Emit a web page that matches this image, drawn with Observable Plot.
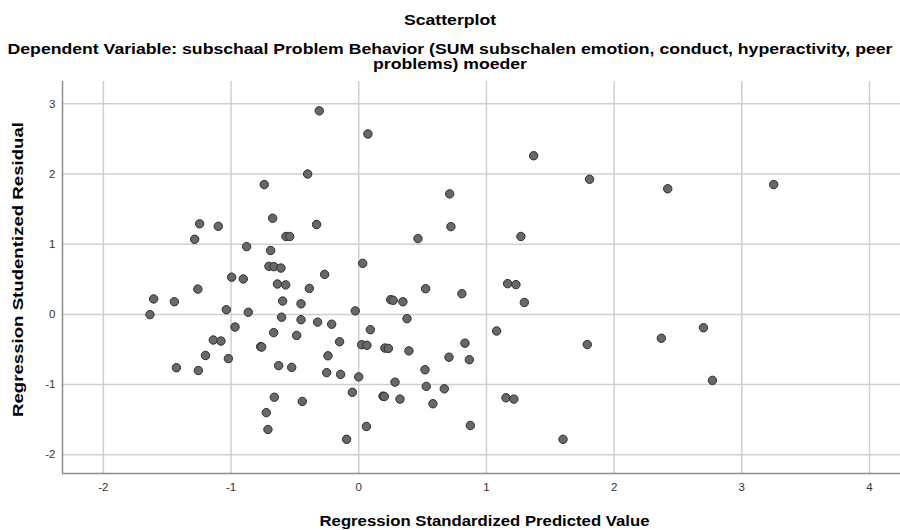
<!DOCTYPE html>
<html>
<head>
<meta charset="utf-8">
<script src="https://cdn.jsdelivr.net/npm/d3@7"></script>
<script src="https://cdn.jsdelivr.net/npm/@observablehq/plot@0.6"></script>
<style>
  html, body { margin: 0; padding: 0; background: #fff; }
  body { width: 900px; height: 530px; overflow: hidden; font-family: "Liberation Sans", Arial, sans-serif; }
  #head { height: 75px; position: relative; color: #000; }
  #title { position: absolute; top: 12px; left: 0; width: 900px; text-align: center; font-weight: bold; font-size: 14px; line-height: 16px; transform: scaleX(1.26); transform-origin: 450px 0; }
  #subtitle { position: absolute; top: 42px; left: 0; width: 900px; text-align: center; font-weight: bold; font-size: 14px; line-height: 14.5px; transform: scaleX(1.26); transform-origin: 450px 0; }
  svg { display: block; }
</style>
</head>
<body>
<div id="head">
  <div id="title">Scatterplot</div>
  <div id="subtitle">Dependent Variable: subschaal Problem Behavior (SUM subschalen emotion, conduct, hyperactivity, peer<br>problems) moeder</div>
</div>
<div id="chart"></div>
<script>
const xLabel = "Regression Standardized Predicted Value";
const yLabel = "Regression Studentized Residual";
const xTicks = [-2, -1, 0, 1, 2, 3, 4];
const yTicks = [-2, -1, 0, 1, 2, 3];
const xDomain = [-2.32, 4.243];
const yDomain = [-2.267, 3.318];

const predicted = [
  -0.309, -0.40, -0.74, -0.674, -1.246, -1.10, -0.33, -1.285, -0.57, -0.54, -0.878, -0.69,
  -0.703, -0.664, -0.609, -0.267, -0.995, -0.904, -0.637, -0.572, -0.387, -1.26, -1.606, -1.444,
  -0.596, -0.452, -1.635, -1.037, -0.865, -0.604, -0.452, -0.322, -0.212, -0.027, -0.969, -0.666,
  -0.486, -1.139, -1.079, -0.15, -0.768, -0.76, -1.20, -1.021, -0.241, -1.428, -1.256, -0.627,
  -0.525, -0.251, -0.142, 0.0, -0.05, -0.661, -0.442, -0.724, -0.711, -0.095,
  0.072, 1.37, 0.712, 0.722, 0.464, 1.27,
  0.031, 0.524, 0.808, 1.166, 1.231, 1.297, 0.25, 0.27, 0.346, 0.378, 0.091, 1.08,
  0.023, 0.064, 0.205, 0.232, 0.393, 0.832, 0.707, 0.866, 0.519, 0.284, 0.529, 0.67,
  0.19, 0.20, 0.323, 0.581, 1.153, 1.215, 0.06, 0.874,
  1.808, 2.42, 3.25, 1.79, 2.37, 2.70, 2.77, 1.60
];
const residual = [
  2.90, 2.00, 1.85, 1.37, 1.29, 1.255, 1.28, 1.07, 1.11, 1.11, 0.965, 0.91,
  0.685, 0.68, 0.66, 0.57, 0.53, 0.505, 0.433, 0.42, 0.37, 0.36, 0.22, 0.18,
  0.19, 0.15, -0.004, 0.067, 0.03, -0.04, -0.076, -0.11, -0.14, 0.05, -0.18, -0.26,
  -0.30, -0.365, -0.38, -0.39, -0.46, -0.465, -0.585, -0.63, -0.59, -0.76, -0.80, -0.73,
  -0.755, -0.83, -0.855, -0.89, -1.11, -1.18, -1.24, -1.40, -1.64, -1.78,
  2.57, 2.26, 1.717, 1.25, 1.08, 1.11,
  0.727, 0.366, 0.295, 0.438, 0.424, 0.17, 0.21, 0.20, 0.18, -0.061, -0.218, -0.237,
  -0.432, -0.44, -0.48, -0.485, -0.52, -0.41, -0.61, -0.646, -0.789, -0.965, -1.026, -1.06,
  -1.165, -1.17, -1.207, -1.273, -1.188, -1.207, -1.597, -1.583,
  1.925, 1.79, 1.85, -0.43, -0.34, -0.19, -0.94, -1.78
];

const data = predicted.map((x, i) => ({x, y: residual[i]}));
const fmt = d => String(d);

const chart = Plot.plot({
  width: 900,
  height: 455,
  marginLeft: 62,
  marginRight: 0,
  marginTop: 6,
  marginBottom: 57,
  style: {fontFamily: "'Liberation Sans', Arial, sans-serif", background: "#fff", color: "#222"},
  x: {domain: xDomain, ticks: xTicks},
  y: {domain: yDomain, ticks: yTicks},
  marks: [
    Plot.gridX(xTicks, {stroke: "#cfcfcf", strokeOpacity: 1, strokeWidth: 1.5}),
    Plot.gridY(yTicks, {stroke: "#cfcfcf", strokeOpacity: 1, strokeWidth: 1.5}),
    Plot.ruleX([xDomain[0]], {stroke: "#8c8c8c", strokeWidth: 1.5}),
    Plot.ruleY([yDomain[0]], {stroke: "#8c8c8c", strokeWidth: 1.5}),
    Plot.axisX(xTicks, {tickSize: 0, tickPadding: 9, tickFormat: fmt, label: null, fontSize: 11.5, fill: "#333"}),
    Plot.axisY(yTicks, {tickSize: 0, tickPadding: 7, tickFormat: fmt, label: null, fontSize: 11.5, fill: "#333"}),
    Plot.dot(data, {x: "x", y: "y", r: 4.2, fill: "#686868", stroke: "#2e2e2e", strokeWidth: 1}),
    Plot.text([xLabel], {text: d => d, frameAnchor: "bottom", textAnchor: "middle", lineAnchor: "middle", dx: 3, dy: 48, fontSize: 14.5, fontWeight: "bold", fill: "#000"}),
    Plot.text([yLabel], {text: d => d, frameAnchor: "left", textAnchor: "middle", lineAnchor: "middle", dx: -44, dy: -8, rotate: -90, fontSize: 15, fontWeight: "bold", fill: "#000"})
  ]
});
chart.querySelectorAll("text").forEach(t => {
  if (t.textContent === xLabel) { t.setAttribute("textLength", 330); t.setAttribute("lengthAdjust", "spacingAndGlyphs"); }
  if (t.textContent === yLabel) { t.setAttribute("textLength", 295); t.setAttribute("lengthAdjust", "spacingAndGlyphs"); }
});
document.getElementById("chart").appendChild(chart);
</script>
</body>
</html>
